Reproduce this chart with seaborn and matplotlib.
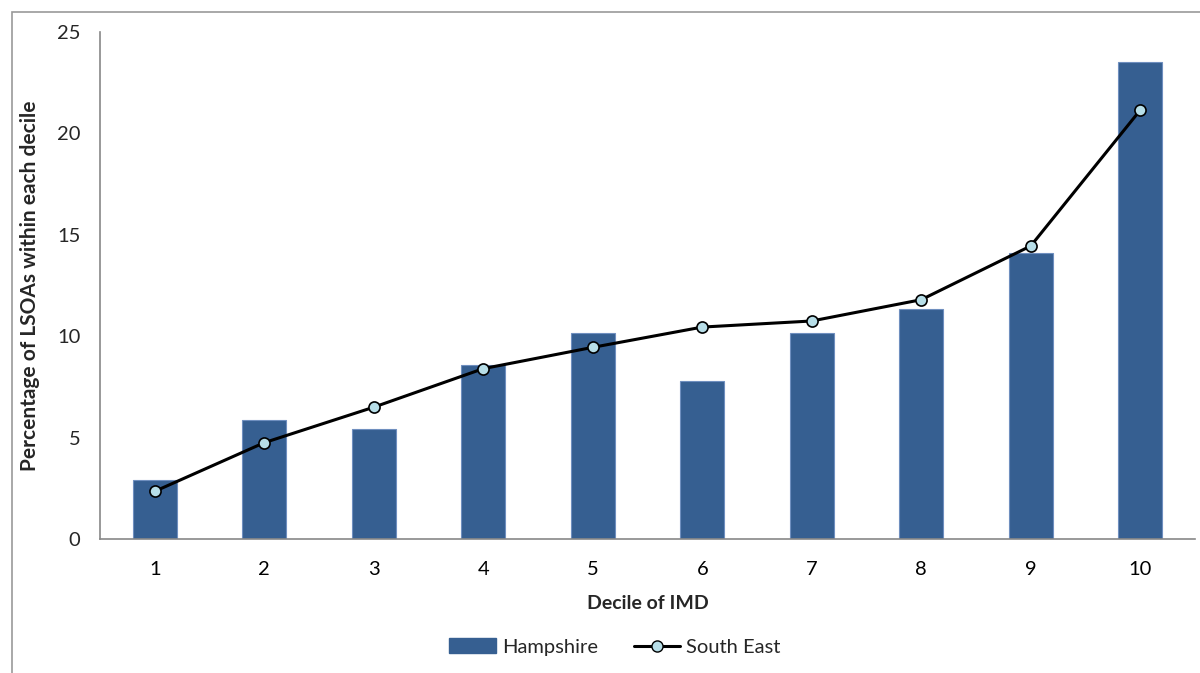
import numpy as np
import pandas as pd
import matplotlib
matplotlib.use("Agg")
import matplotlib.pyplot as plt
from matplotlib.patches import Rectangle
from matplotlib.lines import Line2D
import seaborn as sns

# data
deciles = ["1", "2", "3", "4", "5", "6", "7", "8", "9", "10"]
hampshire = [2.9, 5.85, 5.4, 8.6, 10.15, 7.8, 10.15, 11.35, 14.1, 23.5]
south_east = [2.35, 4.75, 6.5, 8.4, 9.45, 10.45, 10.75, 11.8, 14.45, 21.15]

sns.set_theme(style="white")
plt.rcParams['font.family'] = ['Lato', 'DejaVu Sans']

df = pd.DataFrame({"decile": deciles, "Hampshire": hampshire, "South East": south_east})

fig = plt.figure(figsize=(12, 6.73), dpi=100)
ax = fig.add_axes([100 / 1200, 1 - 539 / 673, 1095 / 1200, 507 / 673])

bar_col = "#365F91"
sns.barplot(data=df, x="decile", y="Hampshire", color=bar_col, width=0.4,
            edgecolor="#6F8FBF", linewidth=0.8, saturation=1, ax=ax)
sns.pointplot(data=df, x="decile", y="South East", color="black", markers="o",
              linestyles="-", markersize=8, linewidth=2.2, ax=ax)
for ln in ax.lines:
    ln.set_markerfacecolor("#B7DEE8")
    ln.set_markeredgecolor("black")
    ln.set_markeredgewidth(1.2)
    ln.set_zorder(5)

ax.set_ylim(0, 25)
ax.set_xlim(-0.5, len(deciles) - 0.5)
ax.set_yticks(np.arange(0, 26, 5))
ax.set_xticks(np.arange(len(deciles)))
ax.set_xticklabels(deciles)
ax.set_xticks(np.arange(len(deciles) + 1) - 0.5, minor=True)
ax.tick_params(axis="x", which="major", length=0, pad=16, labelsize=14.5, colors="black")
ax.tick_params(axis="x", which="minor", length=6, width=1, color="#888888", direction="out")
ax.tick_params(axis="y", length=6, width=1, color="#888888", direction="out", labelsize=14.5, pad=8)
for s in ["top", "right"]:
    ax.spines[s].set_visible(False)
for s in ["left", "bottom"]:
    ax.spines[s].set_color("#888888")
    ax.spines[s].set_linewidth(1.2)

ax.set_xlabel("Decile of IMD", fontsize=14, fontweight="bold", labelpad=12)
ax.set_ylabel("Percentage of LSOAs within each decile", fontsize=15, fontweight="bold", labelpad=12)

handles = [Rectangle((0, 0), 1, 1, color=bar_col),
           Line2D([0], [0], color="black", lw=2.2, marker="o", markersize=8,
                  markerfacecolor="#B7DEE8", markeredgecolor="black")]
fig.legend(handles, ["Hampshire", "South East"], loc="center", bbox_to_anchor=(615 / 1200, 1 - 647 / 673),
           ncol=2, frameon=False, fontsize=14.5, handlelength=2.3, columnspacing=1.8, handletextpad=0.3)

# outer chart frame (partly cut off in the reference)
fig.patches.append(Rectangle((12 / 1200, -0.1), 1.2, 1.1 - 12 / 673, transform=fig.transFigure,
                             fill=False, edgecolor="#999999", linewidth=1.2))

fig.savefig("out.png", dpi=100)
